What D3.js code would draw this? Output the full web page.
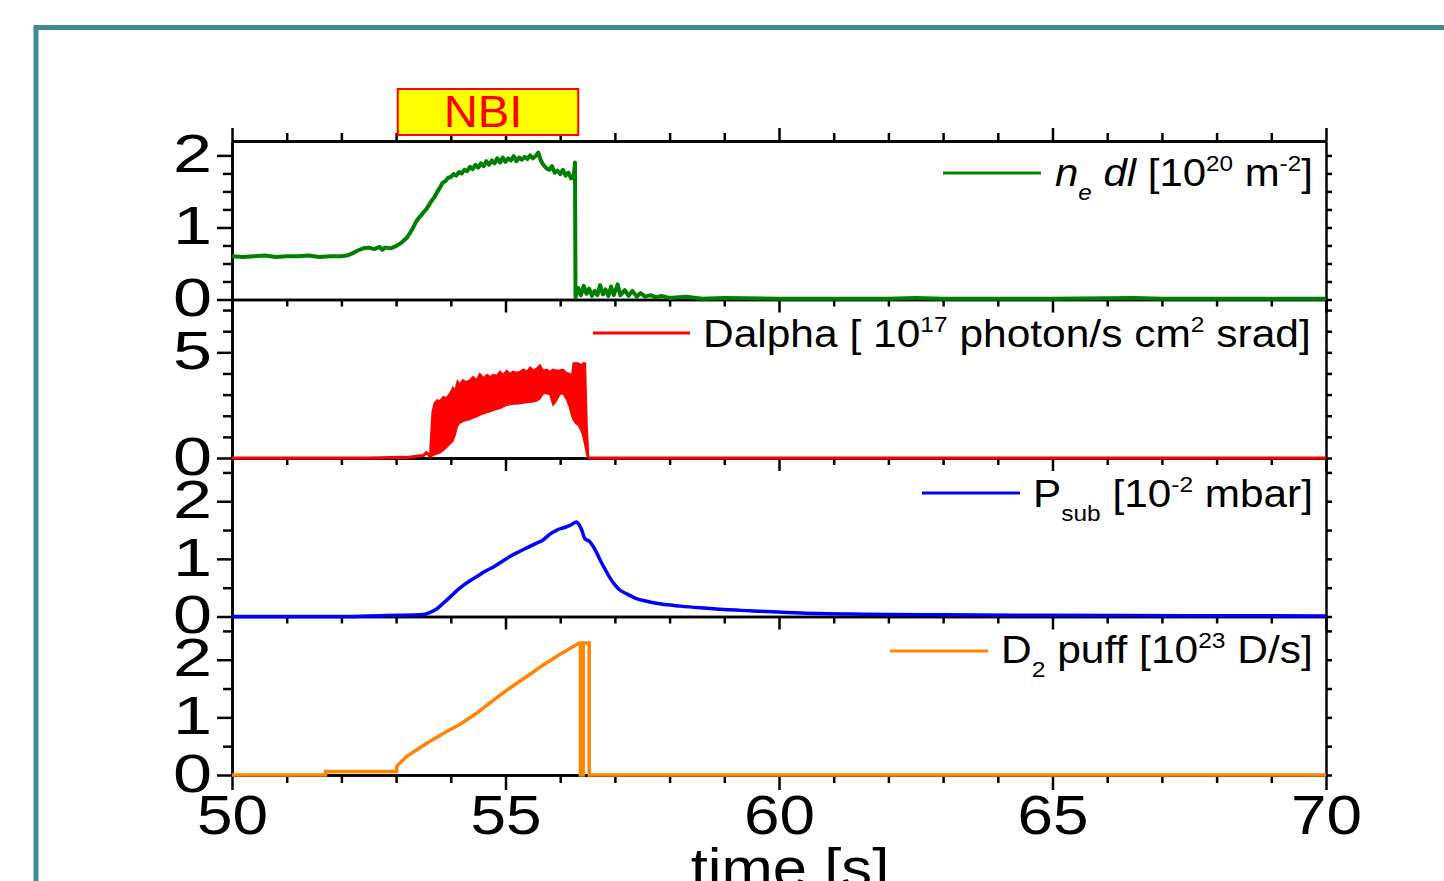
<!DOCTYPE html>
<html><head><meta charset="utf-8">
<script src="https://cdn.jsdelivr.net/npm/d3@7"></script>
<style>html,body{margin:0;padding:0;background:#fff;overflow:hidden}</style>
</head><body>
<svg id="chart" width="1444" height="881"></svg>
<script>
// ---------------- DATA ----------------
const timeDomain = [50, 70];
const timeMajorTicks = [50, 55, 60, 65, 70];
const timeMinorTicks = d3.range(51, 70, 1).filter(t => t % 5 !== 0);
const nbiWindow = [53.03, 56.33];
const nbiLabel = "NBI";
const xAxisTitle = "time [s]";

// panel 1: line-integrated density n_e dl [1e20 m^-2]
const neData = [
 [50.0,0.60],[50.2,0.59],[50.4,0.60],[50.6,0.61],[50.8,0.59],[51.0,0.60],[51.2,0.60],[51.4,0.61],[51.6,0.59],[51.8,0.60],
 [52.0,0.60],[52.1,0.61],[52.2,0.64],[52.3,0.68],[52.4,0.71],[52.5,0.72],[52.6,0.70],[52.7,0.73],[52.75,0.69],[52.8,0.72],
 [52.9,0.71],[53.0,0.74],[53.1,0.79],[53.2,0.86],[53.25,0.92],[53.3,0.98],[53.35,1.06],[53.4,1.12],[53.45,1.16],[53.5,1.21],
 [53.55,1.25],[53.6,1.31],[53.65,1.37],[53.7,1.42],[53.75,1.49],[53.8,1.55],[53.85,1.62],[53.9,1.64],[53.95,1.69],[54.0,1.70],
 [54.05,1.74],[54.1,1.72],[54.15,1.77],[54.2,1.75],[54.25,1.80],[54.3,1.78],[54.35,1.84],[54.4,1.81],[54.45,1.87],[54.5,1.83],
 [54.55,1.89],[54.6,1.85],[54.65,1.92],[54.7,1.87],[54.75,1.93],[54.8,1.89],[54.85,1.96],[54.9,1.90],[54.95,1.97],[55.0,1.91],
 [55.05,1.96],[55.1,1.93],[55.15,1.99],[55.2,1.92],[55.25,1.97],[55.3,1.94],[55.35,1.98],[55.4,1.95],[55.45,2.00],[55.5,1.96],
 [55.55,1.99],[55.6,2.04],[55.65,1.92],[55.7,1.86],[55.75,1.82],[55.8,1.80],[55.85,1.85],[55.9,1.76],[55.95,1.79],[56.0,1.74],
 [56.05,1.80],[56.1,1.72],[56.15,1.76],[56.2,1.68],[56.25,1.73],[56.27,1.90],[56.28,0.03],[56.33,0.16],[56.38,0.06],[56.43,0.19],
 [56.48,0.08],[56.53,0.15],[56.58,0.05],[56.63,0.12],[56.68,0.06],[56.73,0.20],[56.78,0.07],[56.83,0.14],[56.88,0.05],[56.93,0.18],
 [56.98,0.06],[57.05,0.21],[57.1,0.06],[57.18,0.13],[57.25,0.05],[57.32,0.12],[57.4,0.04],[57.47,0.09],[57.55,0.04],[57.65,0.06],
 [57.75,0.03],[57.85,0.05],[58.0,0.02],[58.3,0.04],[58.6,0.01],[59.0,0.02],[60.0,0.01],[62.0,0.01],[62.5,0.02],[63.0,0.01],
 [65.0,0.01],[66.5,0.02],[67.0,0.01],[70.0,0.01]
];

// panel 2: D-alpha [1e17 photon/s cm^2 srad]
const dalphaBase = [[50,0],[52.5,0],[52.9,0.02],[53.1,0.04],[53.2,0.02],[53.3,0.06],[53.4,0.10],[53.5,0.12],[53.55,0.25],[53.6,0.15],[53.62,0.05]];
const dalphaTail = [[56.52,0],[70,0]];
const dalphaTime = [53.62,53.66,53.70,53.75,53.80,53.86,53.92,53.98,54.04,54.08,54.12,54.16,54.22,54.28,54.35,54.41,54.47,54.53,54.60,54.66,54.72,54.78,54.84,54.90,54.96,55.02,55.08,55.14,55.20,55.27,55.33,55.39,55.45,55.51,55.57,55.63,55.69,55.75,55.81,55.87,55.93,55.99,56.05,56.11,56.17,56.21,56.24,56.28,56.33,56.38,56.42,56.46,56.49,56.52];
const dalphaHigh = [0.4,2.2,2.6,2.75,2.7,2.9,2.85,3.05,3.35,3.2,3.65,3.5,3.7,3.6,3.7,3.85,3.7,4.0,3.8,3.95,3.85,3.95,3.9,4.1,3.95,4.15,4.0,4.1,4.05,4.1,4.2,4.1,4.3,4.15,4.25,4.4,4.15,4.2,4.1,4.2,4.15,4.15,4.2,4.05,4.0,3.9,4.5,4.5,4.5,4.4,4.5,4.5,1.6,0];
const dalphaLow = [0.05,0.1,0.15,0.2,0.25,0.35,0.5,0.65,0.8,1.1,1.5,1.65,1.72,1.78,1.82,1.9,1.95,2.03,2.1,2.15,2.2,2.26,2.3,2.35,2.42,2.5,2.52,2.55,2.56,2.58,2.6,2.62,2.64,2.66,2.7,2.8,3.05,3.05,3.0,2.5,2.7,3.0,3.05,2.8,2.4,2.0,1.8,1.65,1.55,1.3,1.0,0.5,0.1,0];

// panel 3: sub-divertor pressure [1e-2 mbar]
const psubData = [
 [50,0],[52,0],[52.5,0.01],[53,0.02],[53.5,0.035],[53.62,0.07],[53.74,0.13],[53.86,0.23],[53.99,0.34],[54.11,0.45],
 [54.23,0.54],[54.35,0.62],[54.47,0.69],[54.62,0.78],[54.78,0.86],[54.93,0.95],[55.08,1.04],[55.24,1.12],[55.39,1.19],
 [55.54,1.26],[55.69,1.33],[55.8,1.42],[55.94,1.50],[56.06,1.54],[56.18,1.58],[56.3,1.64],[56.35,1.58],[56.39,1.51],
 [56.45,1.35],[56.54,1.30],[56.6,1.22],[56.67,1.10],[56.73,0.98],[56.82,0.82],[56.91,0.67],[57.0,0.55],[57.09,0.46],
 [57.22,0.39],[57.37,0.32],[57.6,0.26],[57.82,0.22],[58.2,0.18],[58.56,0.15],[59.0,0.12],[59.47,0.10],[60.4,0.06],
 [61.5,0.04],[63,0.03],[65,0.02],[67.5,0.015],[70,0.01]
];

// panel 4: D2 puff rate [1e23 D/s]
const puffData = [
 [50,0],[51.71,0],[51.71,0.06],[53.01,0.06],[53.01,0.15],[53.19,0.32],[53.56,0.55],[53.86,0.72],[54.17,0.88],[54.47,1.07],
 [54.78,1.30],[55.08,1.51],[55.39,1.71],[55.69,1.91],[55.99,2.09],[56.33,2.28],[56.37,2.29],[56.37,0],[56.42,0],[56.42,2.29],
 [56.53,2.29],[56.53,0],[70,0]
];

const yDomains = [[0,2.2],[0,7.5],[0,2.75],[0,2.75]];
const yMajorTicks = [[0,1,2],[0,5],[0,1,2],[0,1,2]];
const yMinorTicks = [[0.25,0.5,0.75,1.25,1.5,1.75],[1,2,3,4,6,7],[0.5,1.5,2.5],[0.5,1.5,2.5]];
const seriesColors = ["#008000","#ff0000","#0000ff","#ff8400"];

// ---------------- DRAWING ----------------
const svg = d3.select("#chart");
const FONT = "'Liberation Sans', Arial, Helvetica, sans-serif";
const W = 1444, H = 881;
const left = 232, right = 1326, top0 = 141, bottom0 = 775;
const ph = (bottom0 - top0) / 4;
const x = d3.scaleLinear().domain(timeDomain).range([left, right]);

// teal frame
svg.append("path")
  .attr("d", `M36,${H+10} L36,27.5 L${W+10},27.5`)
  .attr("fill","none").attr("stroke","#3f8b8f").attr("stroke-width",5);

const ys = yDomains.map((d,i) => d3.scaleLinear().domain(d).range([top0+(i+1)*ph, top0+i*ph]));

function styleAxis(g){
  g.selectAll("path.domain").attr("stroke","#000").attr("stroke-width",2.5);
  g.selectAll(".tick line").attr("stroke","#000").attr("stroke-width",2.5);
}

// axes
ys.forEach((y,i) => {
  const pb = top0+(i+1)*ph;
  const gl = svg.append("g").attr("transform",`translate(${left},0)`)
    .call(d3.axisLeft(y).tickValues(yMajorTicks[i]).tickSize(15).tickSizeOuter(0).tickFormat(d3.format("d")));
  styleAxis(gl);
  gl.selectAll(".tick text").attr("font-family",FONT).attr("font-size",54).attr("fill","#000")
    .attr("x",-20/1.3).attr("dy","0.3em").attr("transform","scale(1.3,1)");
  const glm = svg.append("g").attr("transform",`translate(${left},0)`)
    .call(d3.axisLeft(y).tickValues(yMinorTicks[i]).tickSize(9).tickSizeOuter(0).tickFormat(""));
  styleAxis(glm);
  const gr = svg.append("g").attr("transform",`translate(${right},0)`)
    .call(d3.axisRight(y).tickValues(yMajorTicks[i].concat(yMinorTicks[i])).tickSize(6).tickSizeOuter(0).tickFormat(""));
  styleAxis(gr);
  const last = i === 3;
  const gb = svg.append("g").attr("transform",`translate(0,${pb})`)
    .call(d3.axisBottom(x).tickValues(timeMajorTicks).tickSize(last?15:13).tickSizeOuter(0)
      .tickFormat(last ? d3.format("d") : ""));
  styleAxis(gb);
  if (last) {
    gb.selectAll(".tick text").attr("font-family",FONT).attr("font-size",56).attr("fill","#000")
      .attr("y",19).attr("transform","scale(1.14,1)");
  }
  const gbm = svg.append("g").attr("transform",`translate(0,${pb})`)
    .call(d3.axisBottom(x).tickValues(timeMinorTicks).tickSize(last?8:7).tickSizeOuter(0).tickFormat(""));
  styleAxis(gbm);
  if (i === 0) {
    const gt = svg.append("g").attr("transform",`translate(0,${top0})`)
      .call(d3.axisTop(x).tickValues(timeMajorTicks).tickSize(13).tickSizeOuter(0).tickFormat(""));
    styleAxis(gt);
    const gtm = svg.append("g").attr("transform",`translate(0,${top0})`)
      .call(d3.axisTop(x).tickValues(timeMinorTicks).tickSize(8).tickSizeOuter(0).tickFormat(""));
    styleAxis(gtm);
  }
});

// series
const lineGen = y => d3.line().x(d => x(d[0])).y(d => y(d[1]));
svg.append("path").datum(neData).attr("d", lineGen(ys[0]))
  .attr("fill","none").attr("stroke",seriesColors[0]).attr("stroke-width",4).attr("stroke-linejoin","round");

const band = dalphaTime.map((t,k) => [t, dalphaLow[k], dalphaHigh[k]]);
svg.append("path").datum(band)
  .attr("d", d3.area().x(d => x(d[0])).y0(d => ys[1](d[1])).y1(d => ys[1](d[2])))
  .attr("fill",seriesColors[1]).attr("stroke",seriesColors[1]).attr("stroke-width",1.5);
svg.append("path").datum(dalphaBase).attr("d", lineGen(ys[1]))
  .attr("fill","none").attr("stroke",seriesColors[1]).attr("stroke-width",3);
svg.append("path").datum(dalphaTail).attr("d", lineGen(ys[1]))
  .attr("fill","none").attr("stroke",seriesColors[1]).attr("stroke-width",3);

svg.append("path").datum(psubData).attr("d", lineGen(ys[2]).curve(d3.curveMonotoneX))
  .attr("fill","none").attr("stroke",seriesColors[2]).attr("stroke-width",3.5);
svg.append("path").datum(puffData).attr("d", lineGen(ys[3]))
  .attr("fill","none").attr("stroke",seriesColors[3]).attr("stroke-width",3.5);

// legends
const legends = [
  {line:[943,1041,173], x:1055, base:186, right:1313, parts:[
    {t:"n",it:1},{t:"e",it:1,sub:1},{t:" dl",it:1},{t:" [10"},{t:"20",sup:1},{t:" m"},{t:"-2",sup:1},{t:"]"}]},
  {line:[593,690,333], x:703, base:347, right:1311, parts:[
    {t:"Dalpha [ 10"},{t:"17",sup:1},{t:" photon/s cm"},{t:"2",sup:1},{t:" srad]"}]},
  {line:[922,1020,493], x:1033, base:507, right:1313, parts:[
    {t:"P"},{t:"sub",sub:1},{t:" [10"},{t:"-2",sup:1},{t:" mbar]"}]},
  {line:[890,988,651], x:1001, base:663, right:1313, parts:[
    {t:"D"},{t:"2",sub:1},{t:" puff [10"},{t:"23",sup:1},{t:" D/s]"}]}
];
legends.forEach((L,i) => {
  svg.append("line").attr("x1",L.line[0]).attr("x2",L.line[1]).attr("y1",L.line[2]).attr("y2",L.line[2])
    .attr("stroke",seriesColors[i]).attr("stroke-width",3);
  const g = svg.append("g");
  const txt = g.append("text").attr("x",0).attr("y",0).attr("font-family",FONT).attr("font-size",38).attr("fill","#000")
    .style("white-space","pre").attr("xml:space","preserve");
  let shift = 0;
  L.parts.forEach(p => {
    let target = p.sup ? -15 : (p.sub ? 14 : 0);
    const ts = txt.append("tspan").text(p.t).attr("dy", target - shift);
    shift = target;
    if (p.sup || p.sub) ts.attr("font-size",22);
    if (p.it) ts.attr("font-style","italic");
  });
  const bb = txt.node().getBBox();
  const s = (L.right - L.x) / bb.width;
  g.attr("transform",`translate(${L.x - bb.x*s},${L.base}) scale(${s},1)`);
});

// NBI marker
svg.append("rect").attr("x",x(nbiWindow[0])).attr("y",89).attr("width",x(nbiWindow[1])-x(nbiWindow[0])).attr("height",46)
  .attr("fill","#ffff00").attr("stroke","#ff0000").attr("stroke-width",2);
svg.append("text").attr("transform",`translate(483,127) scale(1.05,1)`).attr("text-anchor","middle")
  .attr("font-family",FONT).attr("font-size",45).attr("fill","#ff0000").text(nbiLabel);

// x axis title
svg.append("text").attr("transform",`translate(790,887) scale(1.1,1)`).attr("text-anchor","middle")
  .attr("font-family",FONT).attr("font-size",56).attr("fill","#000").text(xAxisTitle);
</script>
</body></html>
